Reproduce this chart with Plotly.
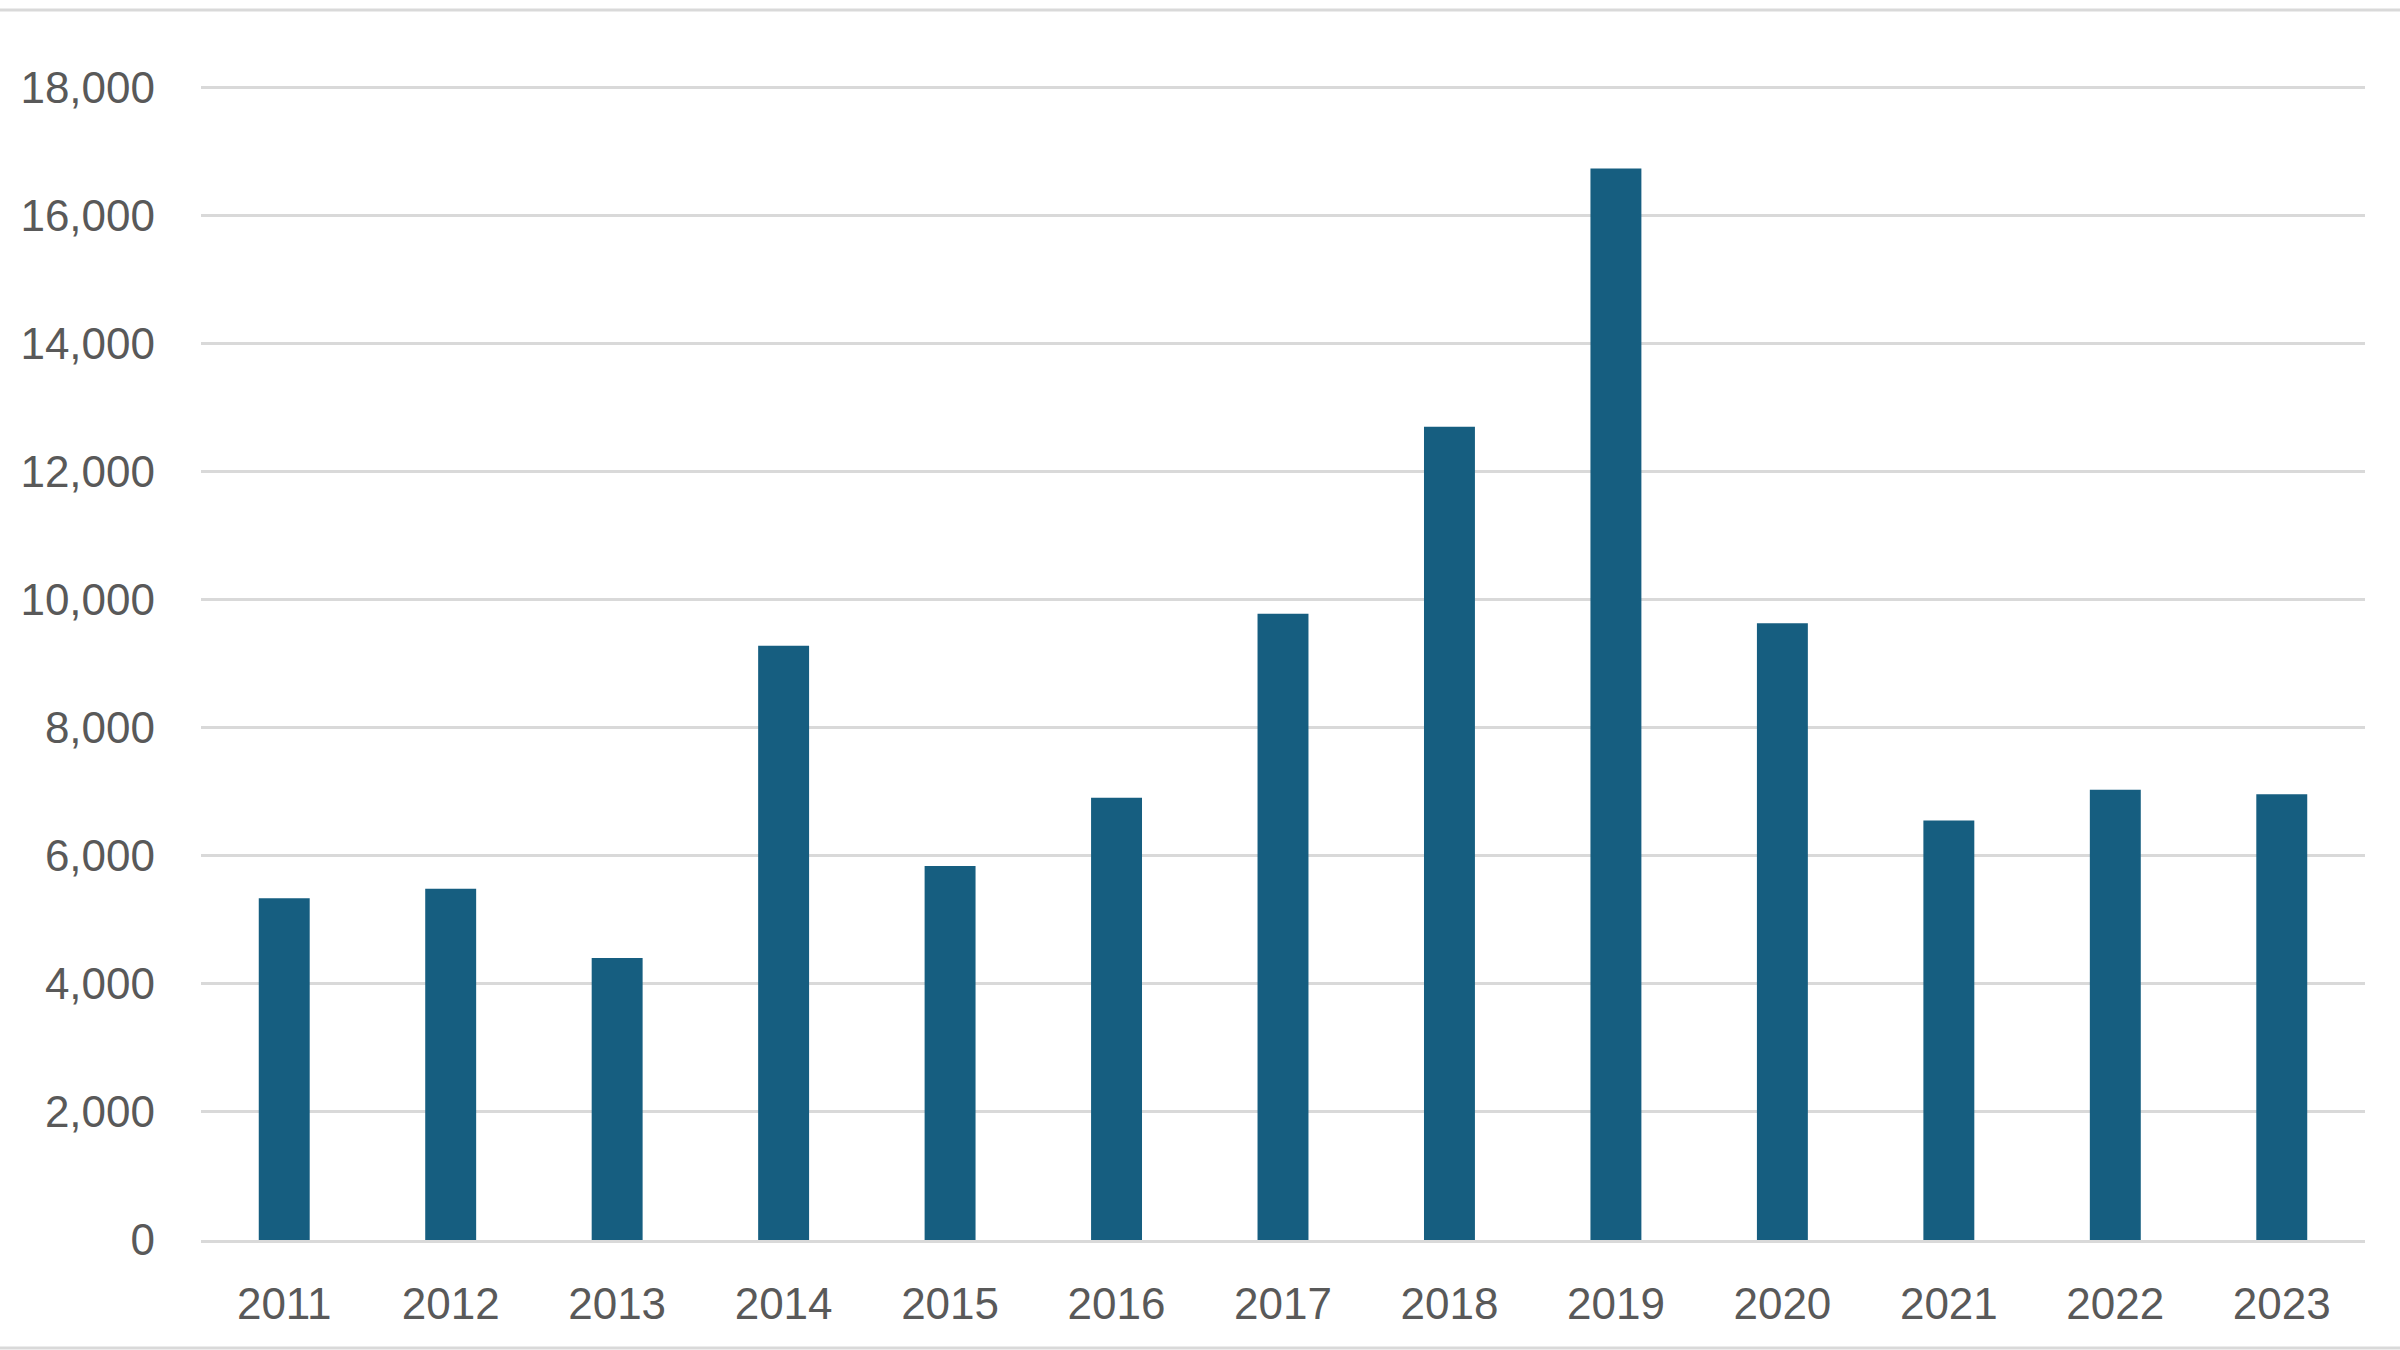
import plotly.graph_objects as go

years = ["2011", "2012", "2013", "2014", "2015", "2016", "2017", "2018", "2019", "2020", "2021", "2022", "2023"]
values = [5335, 5485, 4405, 9280, 5840, 6905, 9780, 12700, 16730, 9630, 6550, 7030, 6960]
y_ticks = [0, 2000, 4000, 6000, 8000, 10000, 12000, 14000, 16000, 18000]

W, H = 2400, 1350
ML, MR, MT, MB = 201, 35, 86, 110
plot_w = W - ML - MR
plot_h = H - MT - MB

fig = go.Figure(go.Bar(x=years, y=values, marker=dict(color="#165E80", line=dict(width=0))))

font = dict(family="Liberation Sans, Arial, sans-serif", size=44, color="#595959")
fig.update_layout(
    width=W, height=H,
    margin=dict(l=ML, r=MR, t=MT, b=MB),
    paper_bgcolor="white", plot_bgcolor="white",
    bargap=0.694, showlegend=False, font=font,
)
fig.update_yaxes(
    range=[0, 18020], tickvals=y_ticks, tickformat=",d",
    showgrid=True, gridcolor="#D9D9D9", gridwidth=3,
    zeroline=False, showline=False, ticks="", ticklabelstandoff=45,
    tickfont=font,
)
fig.update_xaxes(
    showgrid=False, showline=True, linecolor="#D9D9D9", linewidth=3,
    ticks="", ticklabelstandoff=23, tickfont=font,
)
# chart-area border lines (top and bottom)
for yv in [1 + (MT - 10) / plot_h, -(MB - 2) / plot_h]:
    fig.add_shape(type="line", xref="paper", yref="paper",
                  x0=-ML / plot_w, x1=1 + MR / plot_w, y0=yv, y1=yv,
                  line=dict(color="#D9D9D9", width=3))

fig.write_html("out.html", config={"displayModeBar": False},
               post_script="document.body.style.margin='0';document.body.style.overflow='hidden';")
